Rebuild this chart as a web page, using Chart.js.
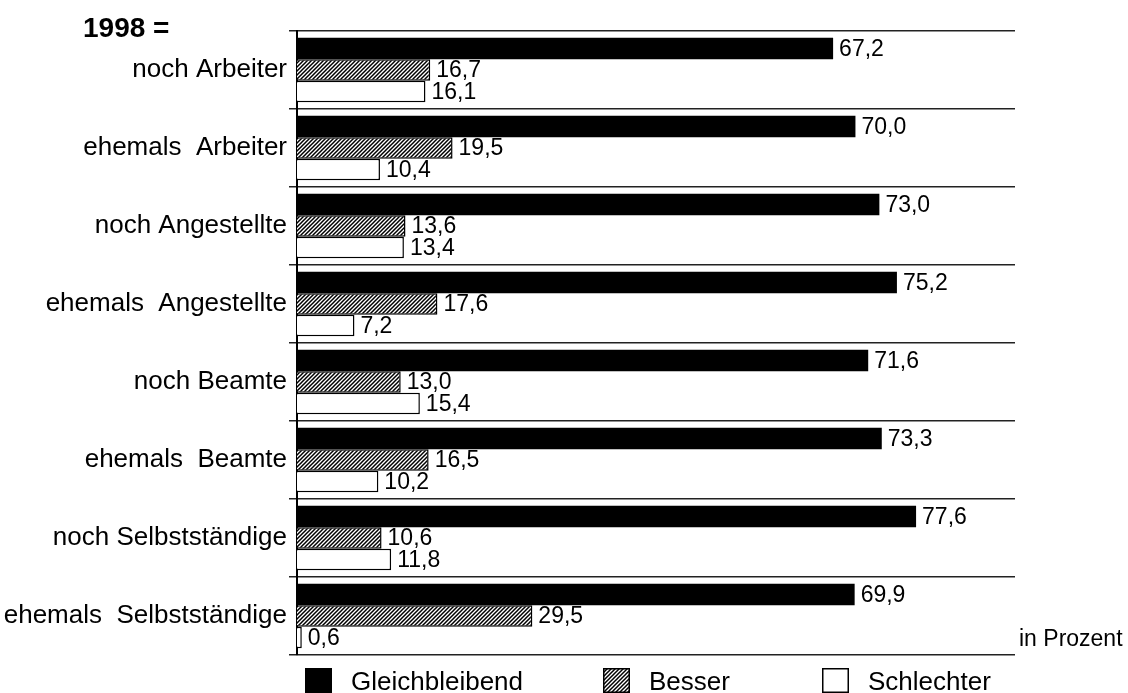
<!DOCTYPE html>
<html>
<head>
<meta charset="utf-8">
<script src="https://cdn.jsdelivr.net/npm/chart.js@4"></script>
<style>
  html, body { margin: 0; padding: 0; background: #fff; }
</style>
</head>
<body>
<canvas id="chart" width="1128" height="693"></canvas>
<script>
var categories = [
  'noch Arbeiter',
  'ehemals  Arbeiter',
  'noch Angestellte',
  'ehemals  Angestellte',
  'noch Beamte',
  'ehemals  Beamte',
  'noch Selbstständige',
  'ehemals  Selbstständige'
];
var seriesNames = ['Gleichbleibend', 'Besser', 'Schlechter'];
var gleichbleibend = [67.2, 70.0, 73.0, 75.2, 71.6, 73.3, 77.6, 69.9];
var besser = [16.7, 19.5, 13.6, 17.6, 13.0, 16.5, 10.6, 29.5];
var schlechter = [16.1, 10.4, 13.4, 7.2, 15.4, 10.2, 11.8, 0.6];

var FONT = '"Liberation Sans", Arial, sans-serif';

// diagonal hatch for "Besser"
var makeHatch = function () {
  var c = document.createElement('canvas');
  c.width = 4;
  c.height = 4;
  var g = c.getContext('2d');
  g.fillStyle = '#fff';
  g.fillRect(0, 0, 4, 4);
  g.strokeStyle = '#000';
  g.lineWidth = 1.5;
  g.beginPath();
  g.moveTo(-1, 5); g.lineTo(5, -1);
  g.moveTo(-1, 1); g.lineTo(1, -1);
  g.moveTo(3, 5); g.lineTo(5, 3);
  g.stroke();
  return document.getElementById('chart').getContext('2d').createPattern(c, 'repeat');
};
var hatch = makeHatch();

var fmt = function (v) { return v.toFixed(1).replace('.', ','); };

var valueLabels = {
  id: 'valueLabels',
  afterDatasetsDraw: function (chart) {
    var ctx = chart.ctx;
    ctx.save();
    ctx.font = '23px ' + FONT;
    ctx.fillStyle = '#000';
    ctx.textAlign = 'left';
    ctx.textBaseline = 'middle';
    chart.data.datasets.forEach(function (ds, i) {
      chart.getDatasetMeta(i).data.forEach(function (bar, j) {
        ctx.fillText(fmt(ds.data[j]), bar.x + 6, bar.y + 1);
      });
    });
    ctx.restore();
  }
};

// legend x positions, title and unit note
var legendX = [305, 603, 822];
var extras = {
  id: 'extras',
  afterDraw: function (chart) {
    var ctx = chart.ctx;
    ctx.save();
    ctx.fillStyle = '#000';
    ctx.textBaseline = 'alphabetic';
    ctx.font = 'bold 28px ' + FONT;
    ctx.fillText('1998 =', 83, 37);
    ctx.font = '23px ' + FONT;
    ctx.fillText('in Prozent', 1019, 646);

    ctx.font = '26px ' + FONT;
    chart.data.datasets.forEach(function (ds, i) {
      var x = legendX[i];
      ctx.fillStyle = ds.backgroundColor;
      ctx.fillRect(x, 668, 27, 25);
      if (ds.borderWidth) {
        ctx.strokeStyle = '#000';
        ctx.lineWidth = 1.5;
        ctx.strokeRect(x + 0.75, 668.75, 25.5, 23.5);
      }
      ctx.fillStyle = '#000';
      ctx.fillText(ds.label, x + 46, 690);
    });
    ctx.restore();
  }
};

var config = {
  type: 'bar',
  data: {
    labels: categories,
    datasets: [{
      label: seriesNames[0],
      data: gleichbleibend,
      backgroundColor: '#000',
      borderWidth: 0
    }, {
      label: seriesNames[1],
      data: besser,
      backgroundColor: hatch,
      borderColor: '#000',
      borderWidth: 1.5
    }, {
      label: seriesNames[2],
      data: schlechter,
      backgroundColor: '#fff',
      borderColor: '#000',
      borderWidth: 1.5
    }]
  },
  options: {
    indexAxis: 'y',
    responsive: false,
    animation: false,
    categoryPercentage: 0.83,
    barPercentage: 1.0,
    layout: {
      padding: { top: 31, right: 113, bottom: 38, left: 0 }
    },
    plugins: {
      legend: { display: false },
      tooltip: { enabled: false }
    },
    scales: {
      x: {
        min: 0,
        max: 90,
        display: false
      },
      y: {
        grid: {
          color: '#222',
          lineWidth: 1.5,
          tickLength: 8,
          offset: true
        },
        border: { color: '#000', width: 2 },
        ticks: {
          color: '#000',
          padding: 2,
          autoSkip: false,
          font: { size: 26, family: FONT }
        },
        afterFit: function (scale) { scale.width = 297; }
      }
    }
  },
  plugins: [valueLabels, extras]
};

window.myChart = new Chart(document.getElementById('chart'), config);
</script>
</body>
</html>
